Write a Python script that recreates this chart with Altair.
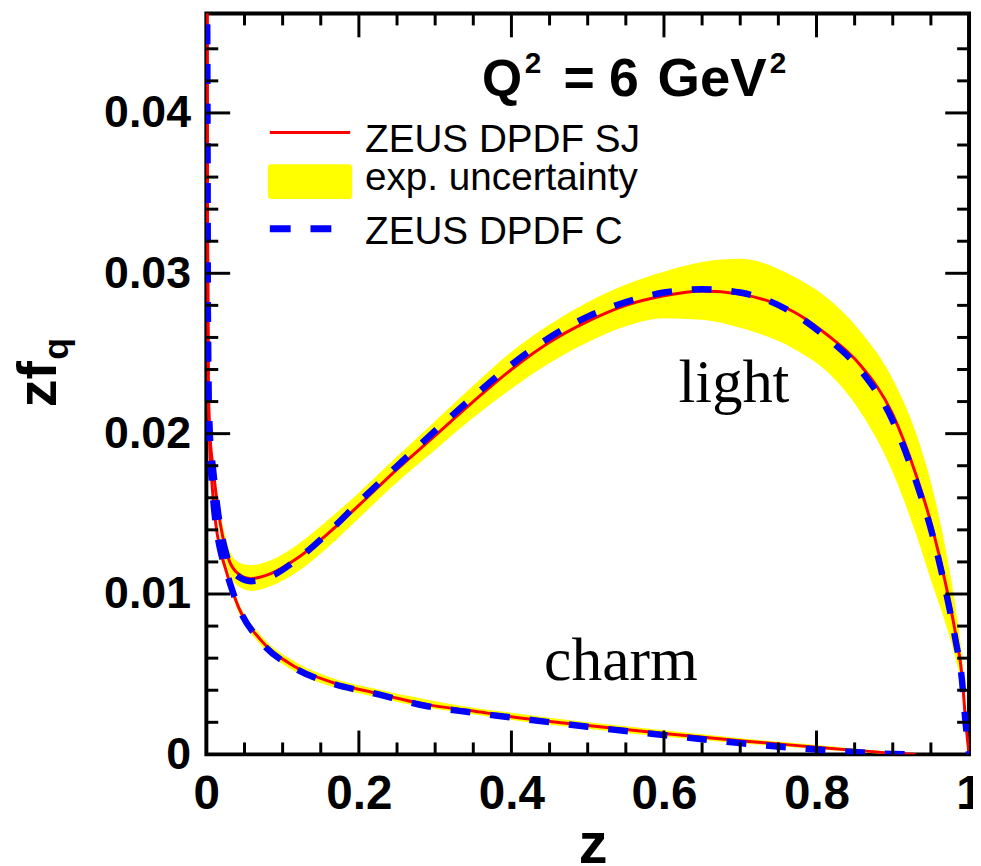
import altair as alt
import pandas as pd

# ---------------- data ----------------
light_z = [0.0008, 0.0015, 0.0025, 0.004, 0.009, 0.0156, 0.0286, 0.0416, 0.0585, 0.0845,
           0.12, 0.159, 0.2016, 0.246, 0.298, 0.35, 0.4, 0.45, 0.5, 0.55,
           0.6, 0.65, 0.7, 0.77, 0.813, 0.857, 0.9, 0.93, 0.952, 0.969,
           0.982, 0.991, 0.995, 1.0]
light_sj = [0.048, 0.034, 0.0235, 0.0205, 0.0178, 0.0152, 0.01226, 0.01127, 0.01096, 0.01127,
            0.01226, 0.01375, 0.0156, 0.0176, 0.0198, 0.0220, 0.0240, 0.0257, 0.0270, 0.0280,
            0.0286, 0.0289, 0.0287, 0.0276, 0.0262, 0.0243, 0.0212, 0.0175, 0.0141, 0.0107,
            0.0076, 0.0048, 0.0024, 0.0]
light_up = [0.049, 0.0348, 0.0242, 0.0212, 0.0185, 0.0159, 0.0130, 0.0120, 0.0118, 0.0121,
            0.0131, 0.0146, 0.0164, 0.0184, 0.0207, 0.0230, 0.0251, 0.0268, 0.0282, 0.0293,
            0.0301, 0.0307, 0.0309, 0.0298, 0.0285, 0.0264, 0.0234, 0.0201, 0.0166, 0.0129,
            0.0093, 0.0060, 0.0035, 0.0]
light_lo = [0.047, 0.0332, 0.0228, 0.0198, 0.0171, 0.0145, 0.0115, 0.0105, 0.0102, 0.0105,
            0.0114, 0.0129, 0.0148, 0.0168, 0.0189, 0.0210, 0.0228, 0.0244, 0.0257, 0.0267,
            0.0272, 0.0271, 0.0266, 0.0253, 0.0239, 0.0214, 0.0176, 0.0138, 0.0106, 0.0082,
            0.0060, 0.0040, 0.0019, 0.0]
light_c = [0.048, 0.034, 0.0235, 0.0205, 0.0177, 0.0150, 0.0121, 0.0111, 0.0108, 0.0111,
           0.0122, 0.0138, 0.0158, 0.0178, 0.0201, 0.0223, 0.0243, 0.0260, 0.0273, 0.0282,
           0.0288, 0.0290, 0.0288, 0.0275, 0.0260, 0.0240, 0.0208, 0.0171, 0.0137, 0.0103,
           0.0072, 0.0045, 0.0022, 0.0]

charm_z = [0.0008, 0.0015, 0.0025, 0.004, 0.008, 0.012, 0.018, 0.025, 0.042, 0.07,
           0.115, 0.163, 0.22, 0.29, 0.35, 0.4, 0.5, 0.6, 0.7, 0.8,
           0.85, 0.9, 0.93]
charm_sj = [0.048, 0.033, 0.0232, 0.0200, 0.0165, 0.0145, 0.0128, 0.0116, 0.0092, 0.0072,
            0.0055, 0.00452, 0.00384, 0.0031, 0.0027, 0.00235, 0.0018, 0.0013, 0.00085, 0.00045,
            0.00025, 0.00008, 0.0]
charm_up = [0.0485, 0.0334, 0.0236, 0.0204, 0.0169, 0.0149, 0.0132, 0.0119, 0.0095, 0.0075,
            0.0058, 0.00480, 0.00410, 0.0034, 0.0029, 0.00260, 0.0020, 0.0015, 0.00100, 0.00058,
            0.00035, 0.00015, 0.0]
charm_lo = [0.0475, 0.0326, 0.0228, 0.0196, 0.0161, 0.0141, 0.0124, 0.0113, 0.0089, 0.0069,
            0.0052, 0.00425, 0.00360, 0.0029, 0.0025, 0.00215, 0.0016, 0.0011, 0.00070, 0.00033,
            0.00015, 0.00002, 0.0]
charm_c = [0.048, 0.033, 0.0232, 0.0200, 0.0165, 0.0145, 0.0128, 0.0116, 0.0092, 0.0071,
           0.0054, 0.00445, 0.0038, 0.0030, 0.0026, 0.0023, 0.00172, 0.0012, 0.0007, 0.0003,
           0.00015, 0.00002, 0.0]

x_tick_labels = [0, 0.2, 0.4, 0.6, 0.8, 1.0]
y_tick_labels = [0, 0.01, 0.02, 0.03, 0.04]
x_major = [0.2, 0.4, 0.6, 0.8]
x_minor = [0.05, 0.1, 0.15, 0.25, 0.3, 0.35, 0.45, 0.5, 0.55, 0.65, 0.7, 0.75, 0.85, 0.9, 0.95]
y_major = [0.01, 0.02, 0.03, 0.04]
y_minor = [0.002, 0.004, 0.006, 0.008, 0.012, 0.014, 0.016, 0.018, 0.022, 0.024, 0.026,
           0.028, 0.032, 0.034, 0.036, 0.038, 0.042, 0.044]

legend_labels = ["ZEUS DPDF SJ", "exp. uncertainty", "ZEUS DPDF C"]
title_parts = ["Q", "2", "=", "6", "GeV", "2"]

# ---------------- chart ----------------
W, H = 769, 747
SANS = "Liberation Sans"
SERIF = "Liberation Serif"

xs = alt.Scale(domain=[0, 1], nice=False, zero=False)
ys = alt.Scale(domain=[0, 0.0462], nice=False, zero=False)

x_axis = alt.Axis(values=x_tick_labels, format=".1~f", labelFont=SANS, labelFontWeight="bold",
                  labelFontSize=48, labelColor="black", labelPadding=17, labelFlush=False,
                  labelOverlap=False, ticks=False, tickSize=0, domain=False, grid=False, title=None)
y_axis = alt.Axis(values=y_tick_labels, format=".2~f", labelFont=SANS, labelFontWeight="bold",
                  labelFontSize=45, labelColor="black", labelPadding=16, labelFlush=False,
                  labelOverlap=False, ticks=False, tickSize=0, domain=False, grid=False, title=None)

def X(field):
    return alt.X(field, type="quantitative", scale=xs, axis=x_axis)

def Y(field):
    return alt.Y(field, type="quantitative", scale=ys, axis=y_axis)

light = pd.DataFrame({"z": light_z, "sj": light_sj, "up": light_up, "lo": light_lo, "c": light_c})
charm = pd.DataFrame({"z": charm_z, "sj": charm_sj, "up": charm_up, "lo": charm_lo, "c": charm_c})

def band(df):
    return alt.Chart(df).mark_area(color="#ffff00", opacity=1, interpolate="monotone", clip=True).encode(
        x=X("z"), y=Y("lo"), y2="up")

def curve(df, field, dashed):
    if dashed:
        m = alt.Chart(df).mark_line(color="#0000ff", strokeWidth=6.5, strokeDash=[20, 20],
                                    interpolate="monotone", clip=True)
    else:
        m = alt.Chart(df).mark_line(color="#ff0000", strokeWidth=3, interpolate="monotone", clip=True)
    return m.encode(x=X("z"), y=Y(field))

def vticks(vals, length, side):
    base = alt.Chart(pd.DataFrame({"v": vals})).mark_rule(color="black", strokeWidth=3)
    if side == "bottom":
        return base.encode(x=X("v"), y=alt.value(H), y2=alt.value(H - length))
    return base.encode(x=X("v"), y=alt.value(0), y2=alt.value(length))

def hticks(vals, length, side):
    base = alt.Chart(pd.DataFrame({"v": vals})).mark_rule(color="black", strokeWidth=3)
    if side == "left":
        return base.encode(y=Y("v"), x=alt.value(0), x2=alt.value(length))
    return base.encode(y=Y("v"), x=alt.value(W), x2=alt.value(W - length))

ticks = [
    vticks(x_major, 24, "bottom"), vticks(x_minor, 12, "bottom"),
    vticks(x_major, 24, "top"), vticks(x_minor, 12, "top"),
    hticks(y_major, 24, "left"), hticks(y_minor, 12, "left"),
    hticks(y_major, 24, "right"), hticks(y_minor, 12, "right"),
]

one = pd.DataFrame({"t": [""]})

def label(text, x, y, size, font=SANS, weight="normal", align="left", angle=0, baseline="alphabetic"):
    kw = dict(font=font, fontSize=size, fontWeight=weight, align=align, baseline=baseline, color="black")
    if angle:
        kw["angle"] = angle
    return alt.Chart(pd.DataFrame({"t": [text]})).mark_text(**kw).encode(
        x=alt.value(x), y=alt.value(y), text="t:N")

texts = [
    # title Q^2 = 6 GeV^2
    label(title_parts[0], 278, 83, 52, weight="bold"),
    label(title_parts[1], 321, 60, 30, weight="bold"),
    label(title_parts[2], 360, 83, 54, weight="bold"),
    label(title_parts[3], 406, 83, 54, weight="bold"),
    label(title_parts[4], 455, 83, 55, weight="bold"),
    label(title_parts[5], 568, 60, 30, weight="bold"),
    # legend
    label(legend_labels[0], 160, 140, 39),
    label(legend_labels[1], 160, 178, 39),
    label(legend_labels[2], 160, 232, 39),
    # curve names
    label("light", 532, 392, 61, font=SERIF, align="center"),
    label("charm", 418, 672, 62, font=SERIF, align="center"),
    # axis titles
    label("z", 390, 857, 58, weight="bold", align="center"),
    label("zf", -152, 397, 56, weight="bold", angle=270),
    label("q", -140, 349, 36, weight="bold", angle=270),
]

leg_line = alt.Chart(one).mark_rule(color="#ff0000", strokeWidth=3).encode(
    x=alt.value(64), x2=alt.value(145), y=alt.value(120))
leg_box = alt.Chart(one).mark_rect(color="#ffff00", cornerRadius=3).encode(
    x=alt.value(62), x2=alt.value(147), y=alt.value(152), y2=alt.value(187))
leg_dash = alt.Chart(one).mark_rule(color="#0000ff", strokeWidth=7, strokeDash=[21, 20]).encode(
    x=alt.value(64), x2=alt.value(127), y=alt.value(217))

chart = alt.layer(
    band(light), band(charm),
    curve(light, "sj", False), curve(charm, "sj", False),
    curve(light, "c", True), curve(charm, "c", True),
    *ticks, leg_line, leg_box, leg_dash, *texts,
).properties(
    width=W, height=H,
    padding={"left": 200, "top": 2, "right": 4, "bottom": 109},
    autosize=alt.AutoSizeParams(type="none"),
    background="white",
).configure_view(stroke="black", strokeWidth=4)

chart.save("out.html", embed_options={"renderer": "svg", "actions": False})
